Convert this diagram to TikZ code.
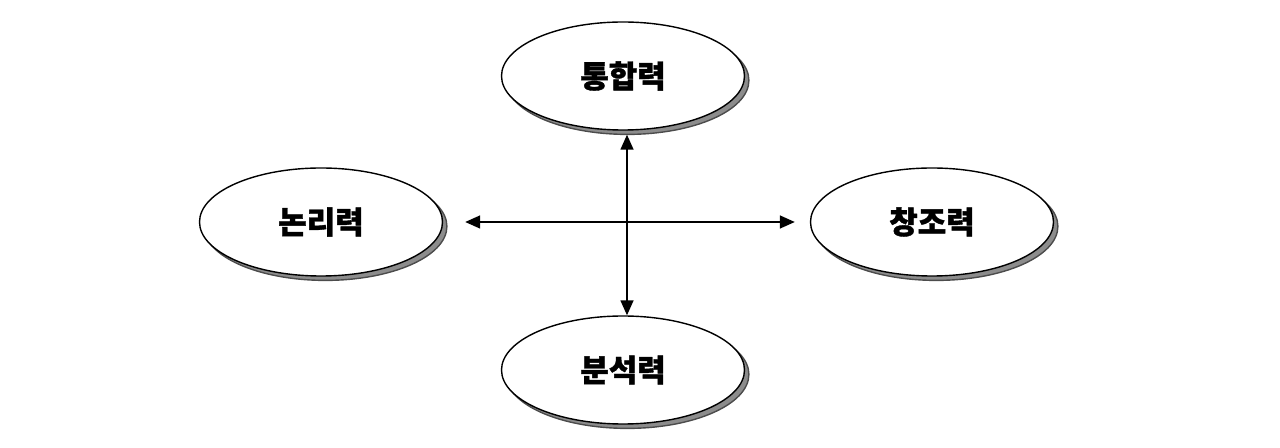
\documentclass[tikz,border=0pt]{standalone}
\usepackage{fontspec}
\newfontfamily\korfont{Noto Sans CJK KR}[BoldFeatures={FakeBold=1.2}]
\usetikzlibrary{arrows.meta,positioning,shapes.geometric,shadows}

\begin{document}
\begin{tikzpicture}[x=0.5pt,y=-0.5pt,
    font=\korfont\bfseries\fontsize{15.5}{18}\selectfont,
    ability/.style={ellipse,draw=black,line width=0.7pt,fill=white,
      minimum width=121.5pt,minimum height=54pt,inner sep=0pt,
      drop shadow={shadow xshift=2.2pt,shadow yshift=-2.2pt,
        fill=black!45,draw=black!70,opacity=1}},
    link/.style={{Triangle[length=7.5pt,width=6.5pt]}-{Triangle[length=7.5pt,width=6.5pt]},
      line width=0.75pt}]
  \useasboundingbox (0,0) rectangle (1280,448);
  % four abilities
  \node[ability] (integ) at (623,76) {통합력};
  \node[ability] (logic) at (321,222) {논리력};
  \node[ability] (create) at (932,222) {창조력};
  \node[ability] (analy) at (623,370) {분석력};
  % connectors
  \draw[link,shorten <=11pt,shorten >=7.5pt] (logic) -- (create);
  \draw[link,shorten <=2pt] ([xshift=2pt]integ.south) -- ([xshift=2pt]analy.north);
\end{tikzpicture}
\end{document}
